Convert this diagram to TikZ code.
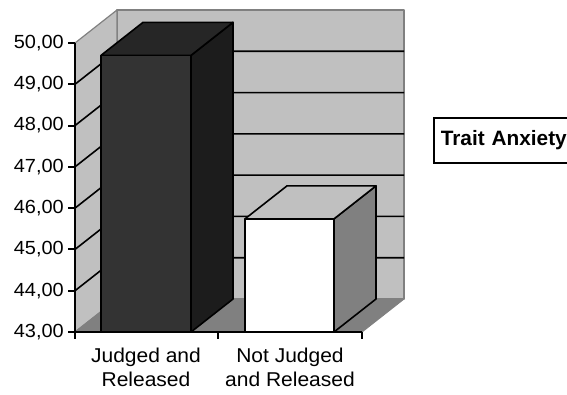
\documentclass[tikz,border=0pt]{standalone}
\usepackage{fontspec}
\setmainfont{Liberation Sans}
\usepackage{graphicx}
\definecolor{wall}{HTML}{C0C0C0}
\definecolor{floorc}{HTML}{808080}
\definecolor{edgec}{HTML}{808080}
\definecolor{barfront}{HTML}{333333}
\definecolor{bartop}{HTML}{262626}
\definecolor{barside}{HTML}{1C1C1C}
\definecolor{wbarside}{HTML}{808080}
\definecolor{wbartop}{HTML}{C0C0C0}
\newcommand{\wide}[1]{\scalebox{1.05}[1]{#1}}
\tikzset{
  wallface/.style={fill=wall, draw=edgec, line width=1.2pt, line join=round},
  floorface/.style={fill=floorc, draw=edgec, line width=1pt, line join=round},
  grid/.style={draw=black, line width=1.6pt},
  barface/.style={draw=black, line width=1.6pt, line join=round},
  axisline/.style={draw=black, line width=2pt},
  ticklbl/.style={anchor=east, inner sep=0pt, font=\fontsize{19}{22}\selectfont},
  catlbl/.style={align=center, inner sep=0pt, font=\fontsize{20}{24}\selectfont},
  legendbox/.style={draw=black, line width=1.6pt, fill=white}
}
\begin{document}
\begin{tikzpicture}[x=1pt,y=-1pt]
\useasboundingbox (0,0) rectangle (567,394);
% depth offset of the 3-D box: (42,-33); one unit = 41.29 px, 43 at y=332
\def\dy{-33}
% back wall, side wall, floor
\path[wallface] (117,10) rectangle (404,299);
\path[wallface] (75,43) -- (117,10) -- (117,299) -- (75,332) -- cycle;
\path[floorface] (75,332) -- (117,299) -- (404,299) -- (362,332) -- cycle;
% gridlines 44..49
\foreach \v in {44,...,49} {
  \pgfmathsetmacro{\yy}{332-(\v-43)*41.29}
  \draw[grid] (75,\yy) -- (117,\yy+\dy) -- (404,\yy+\dy);
}
% bar 1: Judged and Released (49.7)
\pgfmathsetmacro{\ya}{332-6.7*41.29}
\path[barface, fill=barside] (191,\ya) -- (233,\ya+\dy) -- (233,299) -- (191,332) -- cycle;
\path[barface, fill=bartop] (101,\ya) -- (143,\ya+\dy) -- (233,\ya+\dy) -- (191,\ya) -- cycle;
\path[barface, fill=barfront] (101,\ya) rectangle (191,332);
% bar 2: Not Judged and Released (45.74)
\pgfmathsetmacro{\yb}{332-2.74*41.29}
\path[barface, fill=wbarside] (334,\yb) -- (376,\yb+\dy) -- (376,299) -- (334,332) -- cycle;
\path[barface, fill=wbartop] (245,\yb) -- (287,\yb+\dy) -- (376,\yb+\dy) -- (334,\yb) -- cycle;
\path[barface, fill=white] (245,\yb) rectangle (334,332);
% axes
\draw[axisline] (75,43) -- (75,333);
\draw[axisline] (74,332) -- (362,332);
\foreach \v in {43,...,50} {
  \pgfmathsetmacro{\yy}{332-(\v-43)*41.29}
  \draw[axisline] (68,\yy) -- (75,\yy);
  \node[ticklbl] (t\v) at (64,\yy) {\wide{\v,00}};
}
\foreach \xx in {75,218,362} \draw[axisline] (\xx,332) -- (\xx,339);
% category labels
\node[catlbl] (c1) at (146,367) {\wide{Judged and}\\\wide{Released}};
\node[catlbl] (c2) at (290,367) {\wide{Not Judged}\\\wide{and Released}};
% legend
\node[legendbox, anchor=north west, minimum width=150pt, minimum height=45pt,
      text width=140pt, align=left, inner xsep=7pt,
      font=\fontsize{20.8}{24}\bfseries\selectfont] (leg) at (433,117) {Trait Anxiety};
\end{tikzpicture}
\end{document}
